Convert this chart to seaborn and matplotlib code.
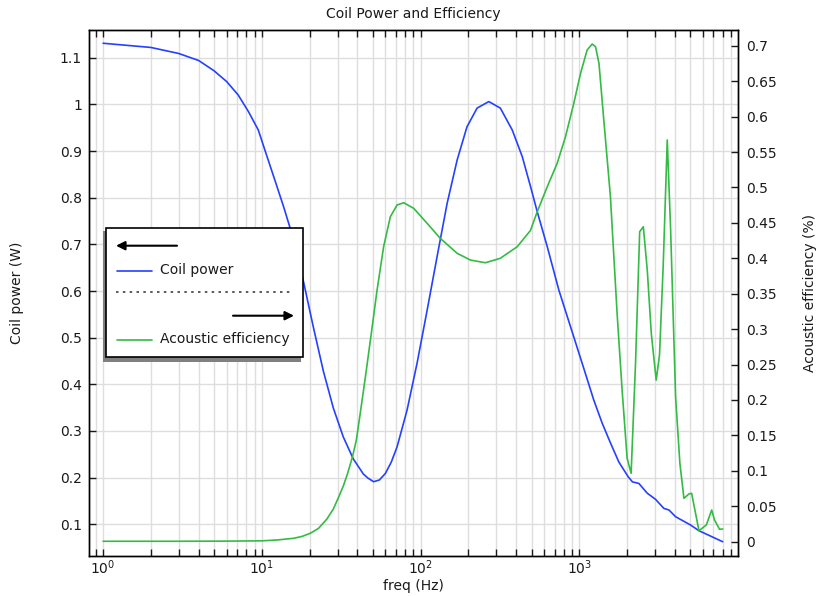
import matplotlib
matplotlib.use("Agg")
import matplotlib.pyplot as plt
import numpy as np
import pandas as pd
import seaborn as sns
from matplotlib.patches import Rectangle, FancyArrowPatch
from matplotlib.lines import Line2D
from matplotlib.ticker import FixedLocator, LogLocator, NullFormatter, FuncFormatter

# ---------------- data ----------------
title = "Coil Power and Efficiency"
x_label = "freq (Hz)"
y_left_label = "Coil power (W)"
y_right_label = "Acoustic efficiency (%)"
series_names = ["Coil power", "Acoustic efficiency"]

power_freq = [1, 2, 3, 4, 5, 6, 7.1, 8.25, 9.5, 10.5, 12.15, 13.7, 15.1, 18.3, 21.1, 24.4, 28.2,
              32.6, 37.7, 43.6, 46.5, 50.6, 55, 60, 65.4, 71.1, 82.2, 95, 110, 127, 147, 170,
              196, 227, 269, 318, 378, 437, 493, 543, 628, 743, 1018, 1234, 1394, 1573, 1774,
              2030, 2160, 2370, 2680, 3020, 3410, 3670, 4040, 5020, 5670, 8000]
power_w = [1.131, 1.122, 1.109, 1.094, 1.072, 1.049, 1.020, 0.984, 0.945, 0.900, 0.835, 0.781,
           0.734, 0.620, 0.5229, 0.4285, 0.3493, 0.2871, 0.240, 0.2078, 0.1993, 0.1913, 0.195,
           0.209, 0.2335, 0.266, 0.345, 0.445, 0.559, 0.6735, 0.788, 0.881, 0.952, 0.992, 1.006,
           0.992, 0.945, 0.888, 0.8235, 0.770, 0.695, 0.602, 0.456, 0.366, 0.3165, 0.274, 0.2335,
           0.202, 0.191, 0.1877, 0.1666, 0.1536, 0.134, 0.1307, 0.1163, 0.0985, 0.0863, 0.0627]

eff_freq = [1, 3, 6, 10, 12.45, 15.9, 18, 20.2, 22.7, 25.7, 28.2, 30.3, 32.6, 34.6, 37.2, 39.4,
            41.7, 44.9, 48.3, 53.2, 58.5, 64.5, 71.1, 78.3, 90.5, 110, 133, 170, 206, 256, 318,
            406, 492, 543, 628, 725, 818, 923, 1018, 1120, 1205, 1265, 1330, 1420, 1570, 1730,
            1860, 2000, 2120, 2260, 2400, 2530, 2680, 2840, 3050, 3200, 3380, 3580, 3760, 4040,
            4300, 4560, 4900, 5100, 5670, 6310, 6820, 7110, 7640, 8000]
eff_pct = [0.0006, 0.0006, 0.0008, 0.0012, 0.0024, 0.0048, 0.0076, 0.0119, 0.0186, 0.032,
           0.0461, 0.0617, 0.0786, 0.0955, 0.1195, 0.1435, 0.1816, 0.2324, 0.2846, 0.3552,
           0.4163, 0.4587, 0.4752, 0.4784, 0.4705, 0.4493, 0.4282, 0.407, 0.3975, 0.3937, 0.400,
           0.4163, 0.4392, 0.4657, 0.501, 0.534, 0.5715, 0.6187, 0.661, 0.694, 0.7024, 0.6986,
           0.675, 0.60, 0.487, 0.322, 0.214, 0.118, 0.0965, 0.252, 0.4375, 0.4445, 0.383, 0.294,
           0.228, 0.2635, 0.393, 0.567, 0.44, 0.2046, 0.1106, 0.0612, 0.0673, 0.0683, 0.0155,
           0.0236, 0.0447, 0.0306, 0.0175, 0.0179]

x_major_ticks = [1, 10, 100, 1000]
y_left_ticks = [0.1, 0.2, 0.3, 0.4, 0.5, 0.6, 0.7, 0.8, 0.9, 1.0, 1.1]
y_right_ticks = [0, 0.05, 0.1, 0.15, 0.2, 0.25, 0.3, 0.35, 0.4, 0.45, 0.5, 0.55, 0.6, 0.65, 0.7]

# ---------------- style ----------------
BLUE = "#2541ff"
GREEN = "#33bb44"
GRID = "#dedede"
TXT = "#1a1a1a"
FS = 10

sns.set_theme(style="white")
plt.rcParams["font.family"] = ["DejaVu Sans"]
plt.rcParams["mathtext.fontset"] = "dejavusans"

W, H = 816, 596
fig = plt.figure(figsize=(W / 100, H / 100), dpi=100)
L, R, T, B = 89, 738, 30, 556
ax = fig.add_axes([L / W, 1 - B / H, (R - L) / W, (B - T) / H])
ax.set_xscale("log")
ax2 = ax.twinx()

df_p = pd.DataFrame({"freq": power_freq, "power": power_w})
df_e = pd.DataFrame({"freq": eff_freq, "eff": eff_pct})
sns.lineplot(data=df_p, x="freq", y="power", ax=ax, color=BLUE, lw=1.2,
             estimator=None, sort=False, legend=False)
sns.lineplot(data=df_e, x="freq", y="eff", ax=ax2, color=GREEN, lw=1.2,
             estimator=None, sort=False, legend=False)

ax.set_xlim(0.815, 9990)
ax.set_ylim(0.0321, 1.1594)
ax2.set_ylim(-0.0202, 0.7222)

ax.xaxis.set_major_locator(FixedLocator(x_major_ticks))
ax.xaxis.set_minor_locator(LogLocator(base=10, subs=np.arange(2, 10), numticks=20))
ax.xaxis.set_minor_formatter(NullFormatter())
ax.yaxis.set_major_locator(FixedLocator(y_left_ticks))
ax.yaxis.set_major_formatter(FuncFormatter(lambda v, p: f"{v:g}"))
ax2.yaxis.set_major_locator(FixedLocator(y_right_ticks))
ax2.yaxis.set_major_formatter(FuncFormatter(lambda v, p: f"{v:g}"))

ax.set_axisbelow(True)
ax.grid(True, which="major", axis="both", color=GRID, lw=1.0)
ax.grid(True, which="minor", axis="x", color=GRID, lw=1.0)
ax2.grid(False)

ax.tick_params(axis="x", which="both", direction="in", top=True, bottom=True,
               length=5, width=1, colors=TXT, labelsize=FS, pad=2)
ax.tick_params(axis="y", which="both", direction="in", left=True, right=False,
               length=5, width=1, colors=TXT, labelsize=FS, pad=5)
ax2.tick_params(axis="y", which="both", direction="in", right=True, left=False,
                length=5, width=1, colors=TXT, labelsize=FS, pad=6)

for a in (ax, ax2):
    for s in a.spines.values():
        s.set_color("black")
        s.set_linewidth(1.0)

ax.set_xlabel(x_label, fontsize=FS, color=TXT, va="center")
ax.xaxis.set_label_coords(0.5, (B - 586) / (B - T))
ax.set_ylabel(y_left_label, fontsize=FS, color=TXT, va="center", rotation_mode="default")
ax.yaxis.set_label_coords((17 - L) / (R - L), 0.5)
ax2.set_ylabel(y_right_label, fontsize=FS, color=TXT, va="center", rotation_mode="default")
ax2.yaxis.set_label_coords((810 - L) / (R - L), 0.5)
ax.set_title(title, fontsize=FS, color=TXT, y=(B - 14) / (B - T), va="center", pad=0)


# ---------------- legend (drawn in figure pixels) ----------------
def P(x, y):
    return (x / W, 1 - y / H)


tf = fig.transFigure
shadow = Rectangle(P(103, 362), (301 - 103) / W, (362 - 231) / H, transform=tf,
                   facecolor="#808080", edgecolor="none", zorder=5)
box = Rectangle(P(106, 357), (303 - 106) / W, (357 - 228.5) / H, transform=tf,
                facecolor="white", edgecolor="black", lw=1.2, zorder=6)
fig.add_artist(shadow)
fig.add_artist(box)

arr_l = FancyArrowPatch(P(177, 245.7), P(116, 245.7), transform=tf, arrowstyle="-|>",
                        mutation_scale=13, lw=1.5, color="black", shrinkA=0, shrinkB=0, zorder=7)
arr_r = FancyArrowPatch(P(233, 315.7), P(294, 315.7), transform=tf, arrowstyle="-|>",
                        mutation_scale=13, lw=1.5, color="black", shrinkA=0, shrinkB=0, zorder=7)
fig.add_artist(arr_l)
fig.add_artist(arr_r)

for yy, col in ((270.7, BLUE), (340, GREEN)):
    fig.add_artist(Line2D([117 / W, 152 / W], [1 - yy / H] * 2, transform=tf,
                          color=col, lw=1.2, zorder=7))
fig.add_artist(Line2D([116 / W, 293 / W], [1 - 292.3 / H] * 2, transform=tf,
                      color="#404040", lw=1.2, linestyle=(0, (1.5, 2.6)), zorder=7))
fig.text(159.5 / W, 1 - 270 / H, series_names[0], ha="left", va="center",
         fontsize=FS, color=TXT, zorder=8)
fig.text(159.5 / W, 1 - 339 / H, series_names[1], ha="left", va="center",
         fontsize=FS, color=TXT, zorder=8)

fig.savefig("out.png", dpi=100)
